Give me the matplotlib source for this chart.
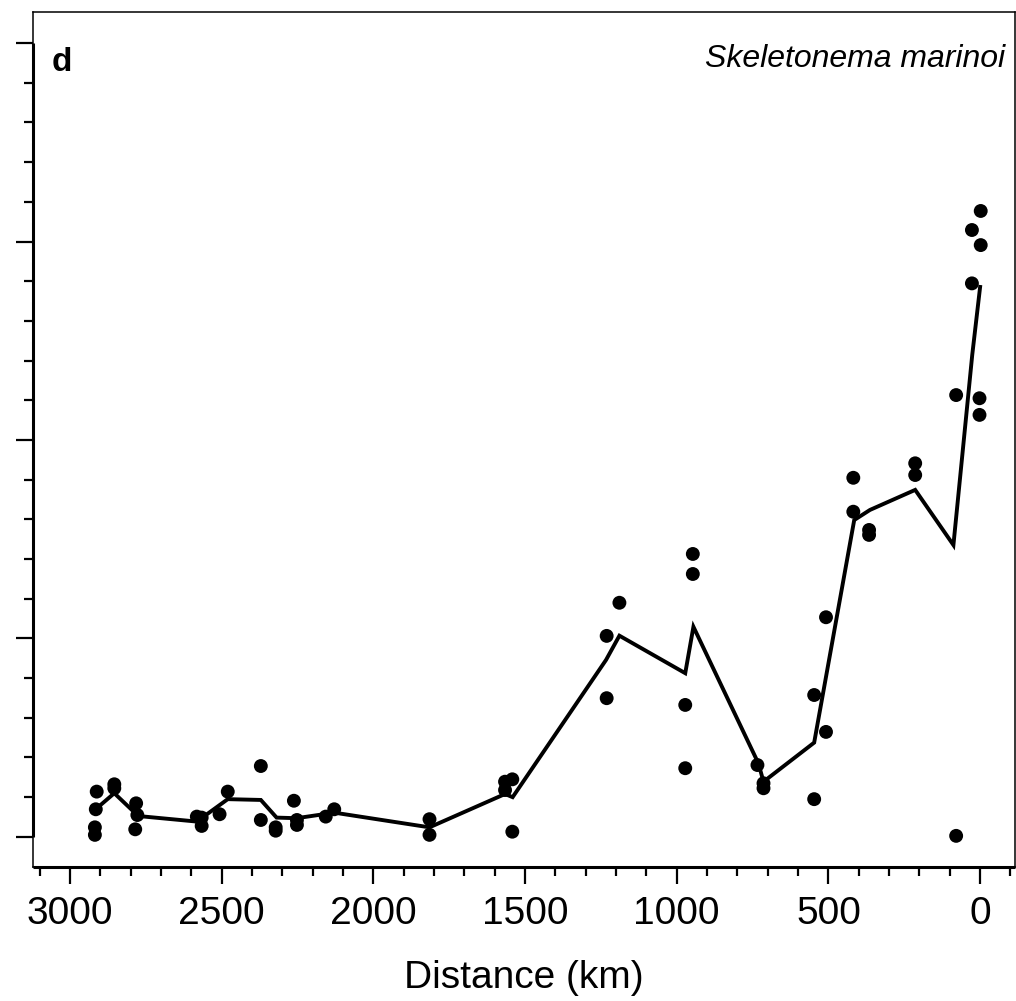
import matplotlib
matplotlib.use("Agg")
import matplotlib.pyplot as plt
import numpy as np
from matplotlib.ticker import FixedLocator

plt.rcParams['font.family'] = ['Liberation Sans', 'DejaVu Sans']

# Observed points: distance (km) and value
pt_km = [2912, 2915, 2918, 2918, 2854, 2854, 2782, 2778, 2785, 2582, 2566, 2566,
         2507, 2480, 2371, 2371, 2322, 2322, 2262, 2252, 2252, 2157, 2129, 1815,
         1815, 1566, 1542, 1566, 1542, 1231, 1189, 1231, 947, 947, 972, 972,
         734, 714, 714, 508, 547, 508, 547, 366, 366, 79, -2, 27, -2, 27, 79,
         2, 2, 214, 214, 418, 418]
pt_val = [0.227, 0.138, 0.047, 0.009, 0.264, 0.244, 0.168, 0.109, 0.037, 0.101, 0.096, 0.054,
          0.113, 0.227, 0.356, 0.084, 0.047, 0.030, 0.181, 0.084, 0.059, 0.101, 0.138, 0.088,
          0.009, 0.277, 0.289, 0.235, 0.025, 1.012, 1.179, 0.698, 1.425, 1.324, 0.664, 0.345,
          0.361, 0.269, 0.244, 1.106, 0.714, 0.528, 0.189, 1.546, 1.521, 0.004, 3.154, 3.058, 2.982, 2.789, 2.226,
          2.210, 2.126, 1.882, 1.823, 1.809, 1.638]

# Fitted line
ln_km = [2918, 2854, 2775, 2582, 2480, 2371, 2319, 2253, 2129, 1815, 1566, 1541,
         1233, 1189, 972, 945, 731, 714, 547, 415, 363, 214, 88, 26, 0]
ln_val = [0.135, 0.219, 0.104, 0.076, 0.189, 0.185, 0.096, 0.093, 0.121, 0.047, 0.215, 0.199,
          0.891, 1.013, 0.824, 1.058, 0.370, 0.277, 0.474, 1.596, 1.647, 1.748, 1.470, 2.428, 2.771]

x_major = [3000, 2500, 2000, 1500, 1000, 500, 0]
x_labels = ["3000", "2500", "2000", "1500", "1000", "500", "0"]

fig = plt.figure(figsize=(10.16, 10.01), dpi=100)
ax = fig.add_axes([33/1016, (1001-867)/1001, 982/1016, 855/1001])

ax.plot(ln_km, ln_val, color='black', lw=2.8, zorder=2, solid_joinstyle='miter')
ax.scatter(pt_km, pt_val, s=100, color='black', edgecolors='none', zorder=3)

ax.set_xlim(3122, -115)
ax.set_ylim(-0.153, 4.157)

ax.xaxis.set_major_locator(FixedLocator(x_major))
ax.set_xticklabels(x_labels)
ax.xaxis.set_minor_locator(FixedLocator(np.arange(-100, 3101, 100)))
ax.yaxis.set_major_locator(FixedLocator([0, 1, 2, 3, 4]))
ax.yaxis.set_minor_locator(FixedLocator(np.arange(0, 4.01, 0.2)))
ax.set_yticklabels([])

ax.tick_params(axis='both', which='major', length=12, width=1.6, direction='out')
ax.tick_params(axis='both', which='minor', length=6.5, width=1.6, direction='out')
ax.tick_params(axis='x', labelsize=28, pad=9)

for s in ax.spines.values():
    s.set_linewidth(1.1)

# thicker axis lines spanning the tick range
ax.plot([3122, 3122], [0, 4], color='black', lw=2.2, clip_on=False, zorder=5, solid_capstyle='butt')
ax.plot([3122, -115], [-0.153, -0.153], color='black', lw=2.2, clip_on=False, zorder=5, solid_capstyle='butt')

ax.set_xlabel("Distance (km)", fontsize=28, labelpad=20)

fig.text(52/1016, 1 - 71/1001, "d", fontsize=24, fontweight='bold', va='baseline', ha='left')
fig.text(1005/1016, 1 - 67/1001, "Skeletonema marinoi", fontsize=23, style='italic',
         ha='right', va='baseline')

fig.savefig("out.png", dpi=100)
